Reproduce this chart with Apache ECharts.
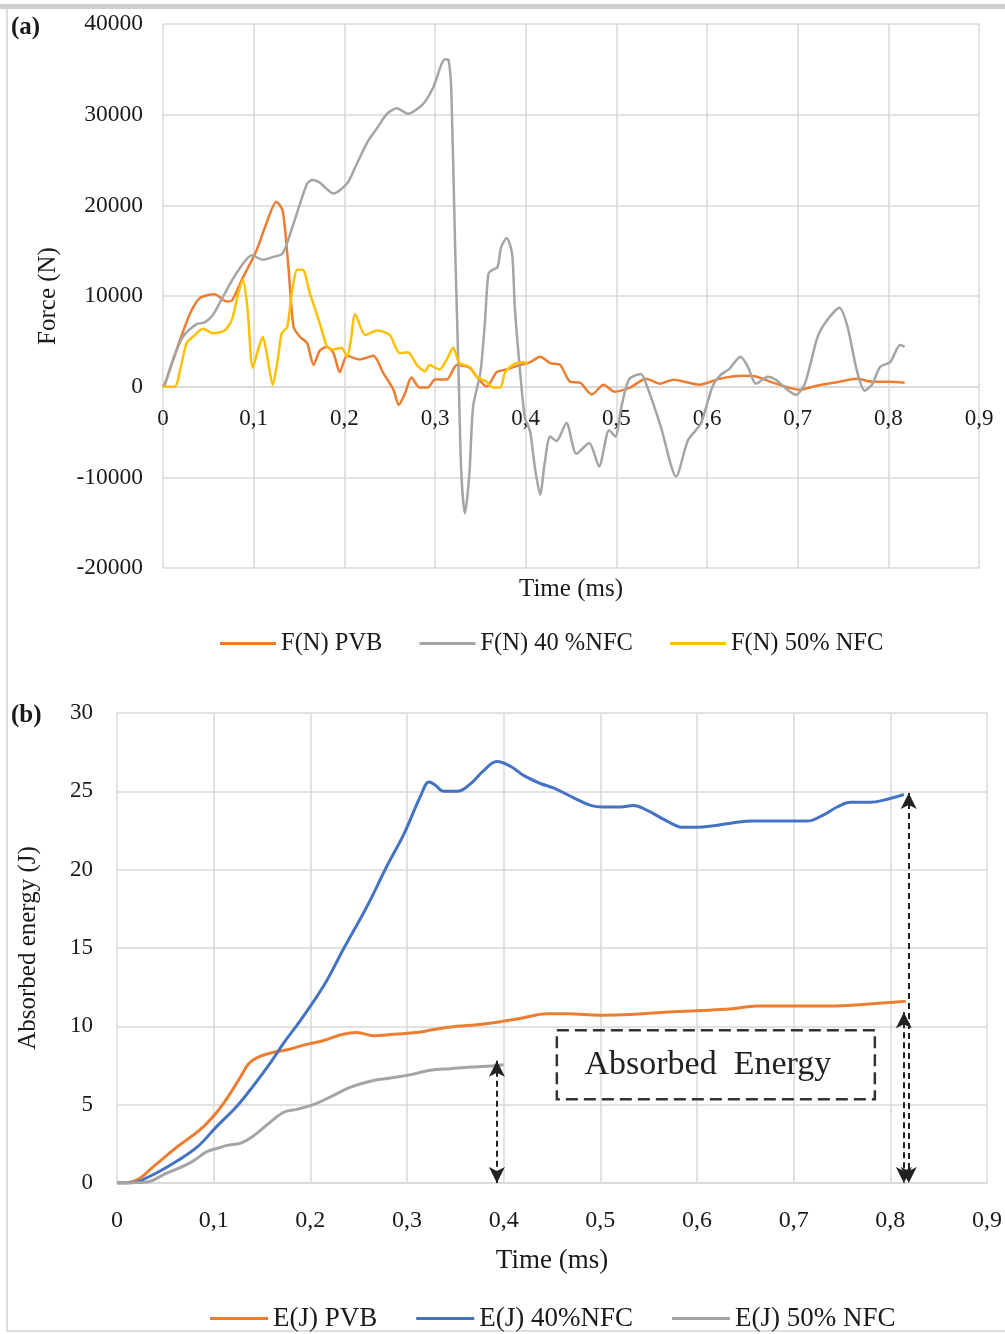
<!DOCTYPE html>
<html>
<head>
<meta charset="utf-8">
<script src="https://cdn.jsdelivr.net/npm/echarts@6/dist/echarts.min.js"></script>
<style>
  html, body { margin: 0; padding: 0; background: #fff; }
  #chart { width: 1005px; height: 1334px; }
</style>
</head>
<body>
<div id="chart"></div>
<script>
// (a) force histories, [time ms, force N]
var forcePvb = [[0,0],[0.002,300],[0.019,5200],[0.030,8100],[0.041,9800],[0.057,10200],[0.070,9400],[0.076,9500],[0.087,11800],[0.103,15000],[0.114,18000],[0.125,20400],[0.132,19400],[0.138,13600],[0.144,6600],[0.151,5500],[0.159,4800],[0.166,2400],[0.173,4000],[0.181,4400],[0.188,3700],[0.195,1600],[0.203,3400],[0.217,3000],[0.232,3400],[0.243,1500],[0.254,-300],[0.260,-2000],[0.267,-700],[0.274,1000],[0.283,-100],[0.292,-100],[0.300,800],[0.313,800],[0.324,2400],[0.338,2100],[0.346,1100],[0.357,0],[0.368,1600],[0.379,1900],[0.394,2400],[0.405,2700],[0.416,3300],[0.427,2600],[0.438,2400],[0.449,550],[0.460,440],[0.473,-860],[0.486,220],[0.498,-550],[0.515,-110],[0.533,880],[0.548,330],[0.563,770],[0.592,220],[0.614,880],[0.640,1200],[0.655,1100],[0.673,440],[0.702,-330],[0.721,110],[0.746,550],[0.765,880],[0.783,550],[0.802,550],[0.818,440]];
var force40 = [[0,0],[0.002,200],[0.011,3000],[0.022,5500],[0.037,6900],[0.046,7100],[0.055,7900],[0.066,9900],[0.081,12500],[0.098,14500],[0.110,14000],[0.121,14300],[0.132,14700],[0.144,18000],[0.159,22400],[0.165,22800],[0.173,22500],[0.188,21300],[0.203,22400],[0.212,24200],[0.225,26900],[0.236,28500],[0.247,30100],[0.258,30700],[0.270,30100],[0.287,31200],[0.298,33000],[0.311,36100],[0.315,36000],[0.318,32600],[0.322,16200],[0.326,1500],[0.329,-9500],[0.333,-14000],[0.338,-9500],[0.342,-2200],[0.350,1500],[0.355,7000],[0.359,12500],[0.364,12900],[0.369,13200],[0.373,15400],[0.379,16400],[0.385,14700],[0.388,8800],[0.394,1500],[0.399,-3300],[0.405,-5000],[0.410,-8800],[0.416,-11900],[0.421,-8400],[0.427,-5500],[0.434,-6000],[0.445,-4000],[0.456,-7400],[0.470,-6200],[0.481,-8800],[0.492,-4800],[0.499,-5500],[0.505,-2500],[0.514,800],[0.527,1400],[0.534,0],[0.549,-4400],[0.566,-9900],[0.579,-5900],[0.593,-4100],[0.606,0],[0.615,1300],[0.624,1900],[0.637,3300],[0.645,2200],[0.654,330],[0.667,1100],[0.676,770],[0.687,-200],[0.698,-900],[0.708,330],[0.722,5500],[0.733,7400],[0.746,8700],[0.755,6600],[0.765,1900],[0.774,-440],[0.782,220],[0.791,2200],[0.802,2700],[0.813,4600],[0.818,4400]];
var force50 = [[0,0],[0.013,0],[0.019,1900],[0.026,4800],[0.033,5500],[0.044,6400],[0.055,5900],[0.068,6200],[0.076,7400],[0.083,10300],[0.088,11800],[0.093,8800],[0.099,2100],[0.105,4100],[0.110,5500],[0.115,3300],[0.121,200],[0.127,3300],[0.131,5900],[0.137,6600],[0.142,10300],[0.148,12900],[0.154,12900],[0.162,10300],[0.168,8500],[0.175,6300],[0.181,4400],[0.188,4100],[0.197,4300],[0.203,3300],[0.207,5000],[0.212,8000],[0.223,5700],[0.236,6200],[0.250,5700],[0.261,3700],[0.270,3800],[0.280,2400],[0.289,1700],[0.294,2400],[0.305,1900],[0.313,3000],[0.320,4300],[0.327,2600],[0.338,2200],[0.346,1100],[0.357,550],[0.364,-100],[0.372,-100],[0.377,1500],[0.383,2200],[0.390,2600],[0.399,2700],[0.402,2400]];

// (b) absorbed energy, [time ms, energy J]
var energyPvb = [[0,0],[0.017,0.1],[0.038,1.06],[0.062,2.3],[0.086,3.4],[0.103,4.5],[0.117,5.7],[0.128,6.8],[0.136,7.6],[0.145,8.0],[0.159,8.3],[0.176,8.5],[0.193,8.8],[0.214,9.1],[0.234,9.5],[0.248,9.6],[0.266,9.4],[0.286,9.5],[0.310,9.6],[0.328,9.8],[0.352,10.0],[0.372,10.1],[0.397,10.3],[0.417,10.5],[0.445,10.8],[0.466,10.8],[0.500,10.7],[0.531,10.75],[0.566,10.9],[0.600,11.0],[0.634,11.1],[0.662,11.3],[0.703,11.3],[0.738,11.3],[0.772,11.4],[0.816,11.6]];
var energy40 = [[0,0],[0.014,0],[0.034,0.43],[0.062,1.4],[0.083,2.3],[0.103,3.6],[0.124,4.9],[0.141,6.2],[0.159,7.7],[0.172,8.9],[0.190,10.4],[0.214,12.6],[0.234,14.9],[0.259,17.7],[0.279,20.2],[0.297,22.3],[0.314,24.7],[0.323,25.6],[0.329,25.4],[0.338,25.0],[0.352,25.0],[0.366,25.5],[0.379,26.3],[0.393,26.9],[0.407,26.6],[0.421,26.0],[0.438,25.5],[0.452,25.2],[0.472,24.6],[0.490,24.1],[0.503,24.0],[0.521,24.0],[0.534,24.1],[0.548,23.8],[0.569,23.1],[0.586,22.7],[0.600,22.7],[0.617,22.8],[0.638,23.0],[0.659,23.1],[0.679,23.1],[0.700,23.1],[0.714,23.1],[0.731,23.5],[0.745,24.0],[0.759,24.3],[0.779,24.3],[0.797,24.5],[0.814,24.8]];
var energy50 = [[0,0],[0.028,0.04],[0.052,0.64],[0.076,1.3],[0.093,2.0],[0.103,2.2],[0.114,2.4],[0.128,2.55],[0.141,3.0],[0.155,3.7],[0.172,4.5],[0.186,4.7],[0.203,5.0],[0.221,5.5],[0.241,6.1],[0.262,6.5],[0.283,6.7],[0.303,6.9],[0.324,7.2],[0.345,7.3],[0.366,7.4],[0.383,7.45],[0.400,7.55]];

// annotation arrows: [time, top energy, bottom energy]
var arrowMarks = [[0.393, 7.8, 0], [0.814, 10.9, 0], [0.819, 24.9, 0]];
// dashed box: [[t0, e0], [t1, e1]]
var boxCorners = [[0.455, 9.75], [0.784, 5.35]];
var boxText = "Absorbed  Energy";

var namesA = ["F(N) PVB", "F(N) 40 %NFC", "F(N) 50% NFC"];
var namesB = ["E(J) PVB", "E(J) 40%NFC", "E(J) 50% NFC"];

var forceMin = -20000, forceMax = 40000;

var serif = "Liberation Serif";
var txt = "#1a1a1a";
var gridCol = "#d9d9d9";

// plot (a) height; its time axis sits on the zero force line
var gridAHeight = 544;
var zeroOffsetA = -gridAHeight * (0 - forceMin) / (forceMax - forceMin);

function commaTick(v) {
    if (v === 0) return "0";
    return v.toFixed(1).replace(".", ",");
}

function plainTick(v) {
    return String(v);
}

function xAxisCfg(idx, fs, margin, nameGap, nameFs, offset) {
    return {
        type: "value", gridIndex: idx, min: 0, max: 0.9, interval: 0.1,
        offset: offset,
        name: "Time (ms)", nameLocation: "middle", nameGap: nameGap,
        nameTextStyle: { fontFamily: serif, fontSize: nameFs, color: txt },
        axisLine: { onZero: false, lineStyle: { color: gridCol, width: 1.5 } },
        axisTick: { show: false },
        axisLabel: { formatter: commaTick, fontFamily: serif, fontSize: fs, color: txt, margin: margin,
                     showMinLabel: true, showMaxLabel: true },
        splitLine: { show: true, lineStyle: { color: gridCol, width: 1.5 } }
    };
}

var arrowData = arrowMarks.map(function (a) {
    return [{ coord: [a[0], a[1]] }, { coord: [a[0], a[2]] }];
});

var option = {
    backgroundColor: "#fff",
    animation: false,
    title: [
        { text: "(a)", left: 6, top: 10, textStyle: { fontFamily: serif, fontWeight: "bold", fontSize: 25, color: txt } },
        { text: "(b)", left: 6, top: 698, textStyle: { fontFamily: serif, fontWeight: "bold", fontSize: 25, color: txt } }
    ],
    graphic: [
        { type: "rect", shape: { x: 7, y: 7, width: 1010, height: 1324 }, style: { fill: "none", stroke: "#d4d4d4", lineWidth: 1.5 }, silent: true },
        { type: "rect", shape: { x: 0, y: 4, width: 1005, height: 5 }, style: { fill: "#cfcfcf" }, silent: true }
    ],
    grid: [
        { left: 163, right: 26, top: 24, height: gridAHeight },
        { left: 117, right: 18, top: 713, height: 470 }
    ],
    legend: [
        { data: namesA, left: 215, top: 626, icon: "rect", itemWidth: 56, itemHeight: 3, itemGap: 37,
          textStyle: { fontFamily: serif, fontSize: 24.5, color: txt } },
        { data: namesB, left: 205, top: 1300, icon: "rect", itemWidth: 58, itemHeight: 3, itemGap: 39,
          textStyle: { fontFamily: serif, fontSize: 27, color: txt } }
    ],
    xAxis: [
        xAxisCfg(0, 23, 21, 190, 25, zeroOffsetA),
        xAxisCfg(1, 24, 26, 64, 27, 0)
    ],
    yAxis: [
        {
            type: "value", gridIndex: 0, min: forceMin, max: forceMax, interval: 10000,
            name: "Force (N)", nameLocation: "middle", nameGap: 102,
            nameTextStyle: { fontFamily: serif, fontSize: 25, color: txt },
            axisLine: { show: false }, axisTick: { show: false },
            axisLabel: { formatter: plainTick, fontFamily: serif, fontSize: 23.5, color: txt, margin: 20 },
            splitLine: { lineStyle: { color: gridCol, width: 1.5 } }
        },
        {
            type: "value", gridIndex: 1, min: 0, max: 30, interval: 5,
            name: "Absorbed energy (J)", nameLocation: "middle", nameGap: 76,
            nameTextStyle: { fontFamily: serif, fontSize: 25, color: txt },
            axisLine: { show: false }, axisTick: { show: false },
            axisLabel: { fontFamily: serif, fontSize: 23, color: txt, margin: 24 },
            splitLine: { lineStyle: { color: gridCol, width: 1.5 } }
        }
    ],
    series: [
        { name: namesA[0], type: "line", xAxisIndex: 0, yAxisIndex: 0, data: forcePvb, symbol: "none", smooth: 0.25,
          color: "#ed7d31", lineStyle: { width: 2.5 } },
        { name: namesA[1], type: "line", xAxisIndex: 0, yAxisIndex: 0, data: force40, symbol: "none", smooth: 0.25,
          color: "#a5a5a5", lineStyle: { width: 2.5 } },
        { name: namesA[2], type: "line", xAxisIndex: 0, yAxisIndex: 0, data: force50, symbol: "none", smooth: 0.25,
          color: "#ffc000", lineStyle: { width: 2.5 } },
        { name: namesB[0], type: "line", xAxisIndex: 1, yAxisIndex: 1, data: energyPvb, symbol: "none", smooth: 0.4,
          color: "#ed7d31", lineStyle: { width: 3 } },
        { name: namesB[1], type: "line", xAxisIndex: 1, yAxisIndex: 1, data: energy40, symbol: "none", smooth: 0.4,
          color: "#4472c4", lineStyle: { width: 3 } },
        { name: namesB[2], type: "line", xAxisIndex: 1, yAxisIndex: 1, data: energy50, symbol: "none", smooth: 0.4,
          color: "#a5a5a5", lineStyle: { width: 3 } },
        {
            name: "annot", type: "line", xAxisIndex: 1, yAxisIndex: 1, data: [], silent: true,
            markLine: {
                silent: true, symbol: ["arrow", "arrow"], symbolSize: [12, 16],
                lineStyle: { type: [6, 4], color: "#222", width: 2 },
                label: { show: false },
                data: arrowData
            },
            markArea: {
                silent: true,
                itemStyle: { color: "rgba(0,0,0,0)", borderColor: "#333", borderWidth: 2.5, borderType: [12, 6] },
                label: { show: true, position: "inside", formatter: boxText, offset: [-8, 0],
                         fontFamily: serif, fontSize: 34, color: "#222" },
                data: [[{ coord: boxCorners[0] }, { coord: boxCorners[1] }]]
            }
        }
    ]
};

var chart = echarts.init(document.getElementById("chart"));
chart.setOption(option);
</script>
</body>
</html>
